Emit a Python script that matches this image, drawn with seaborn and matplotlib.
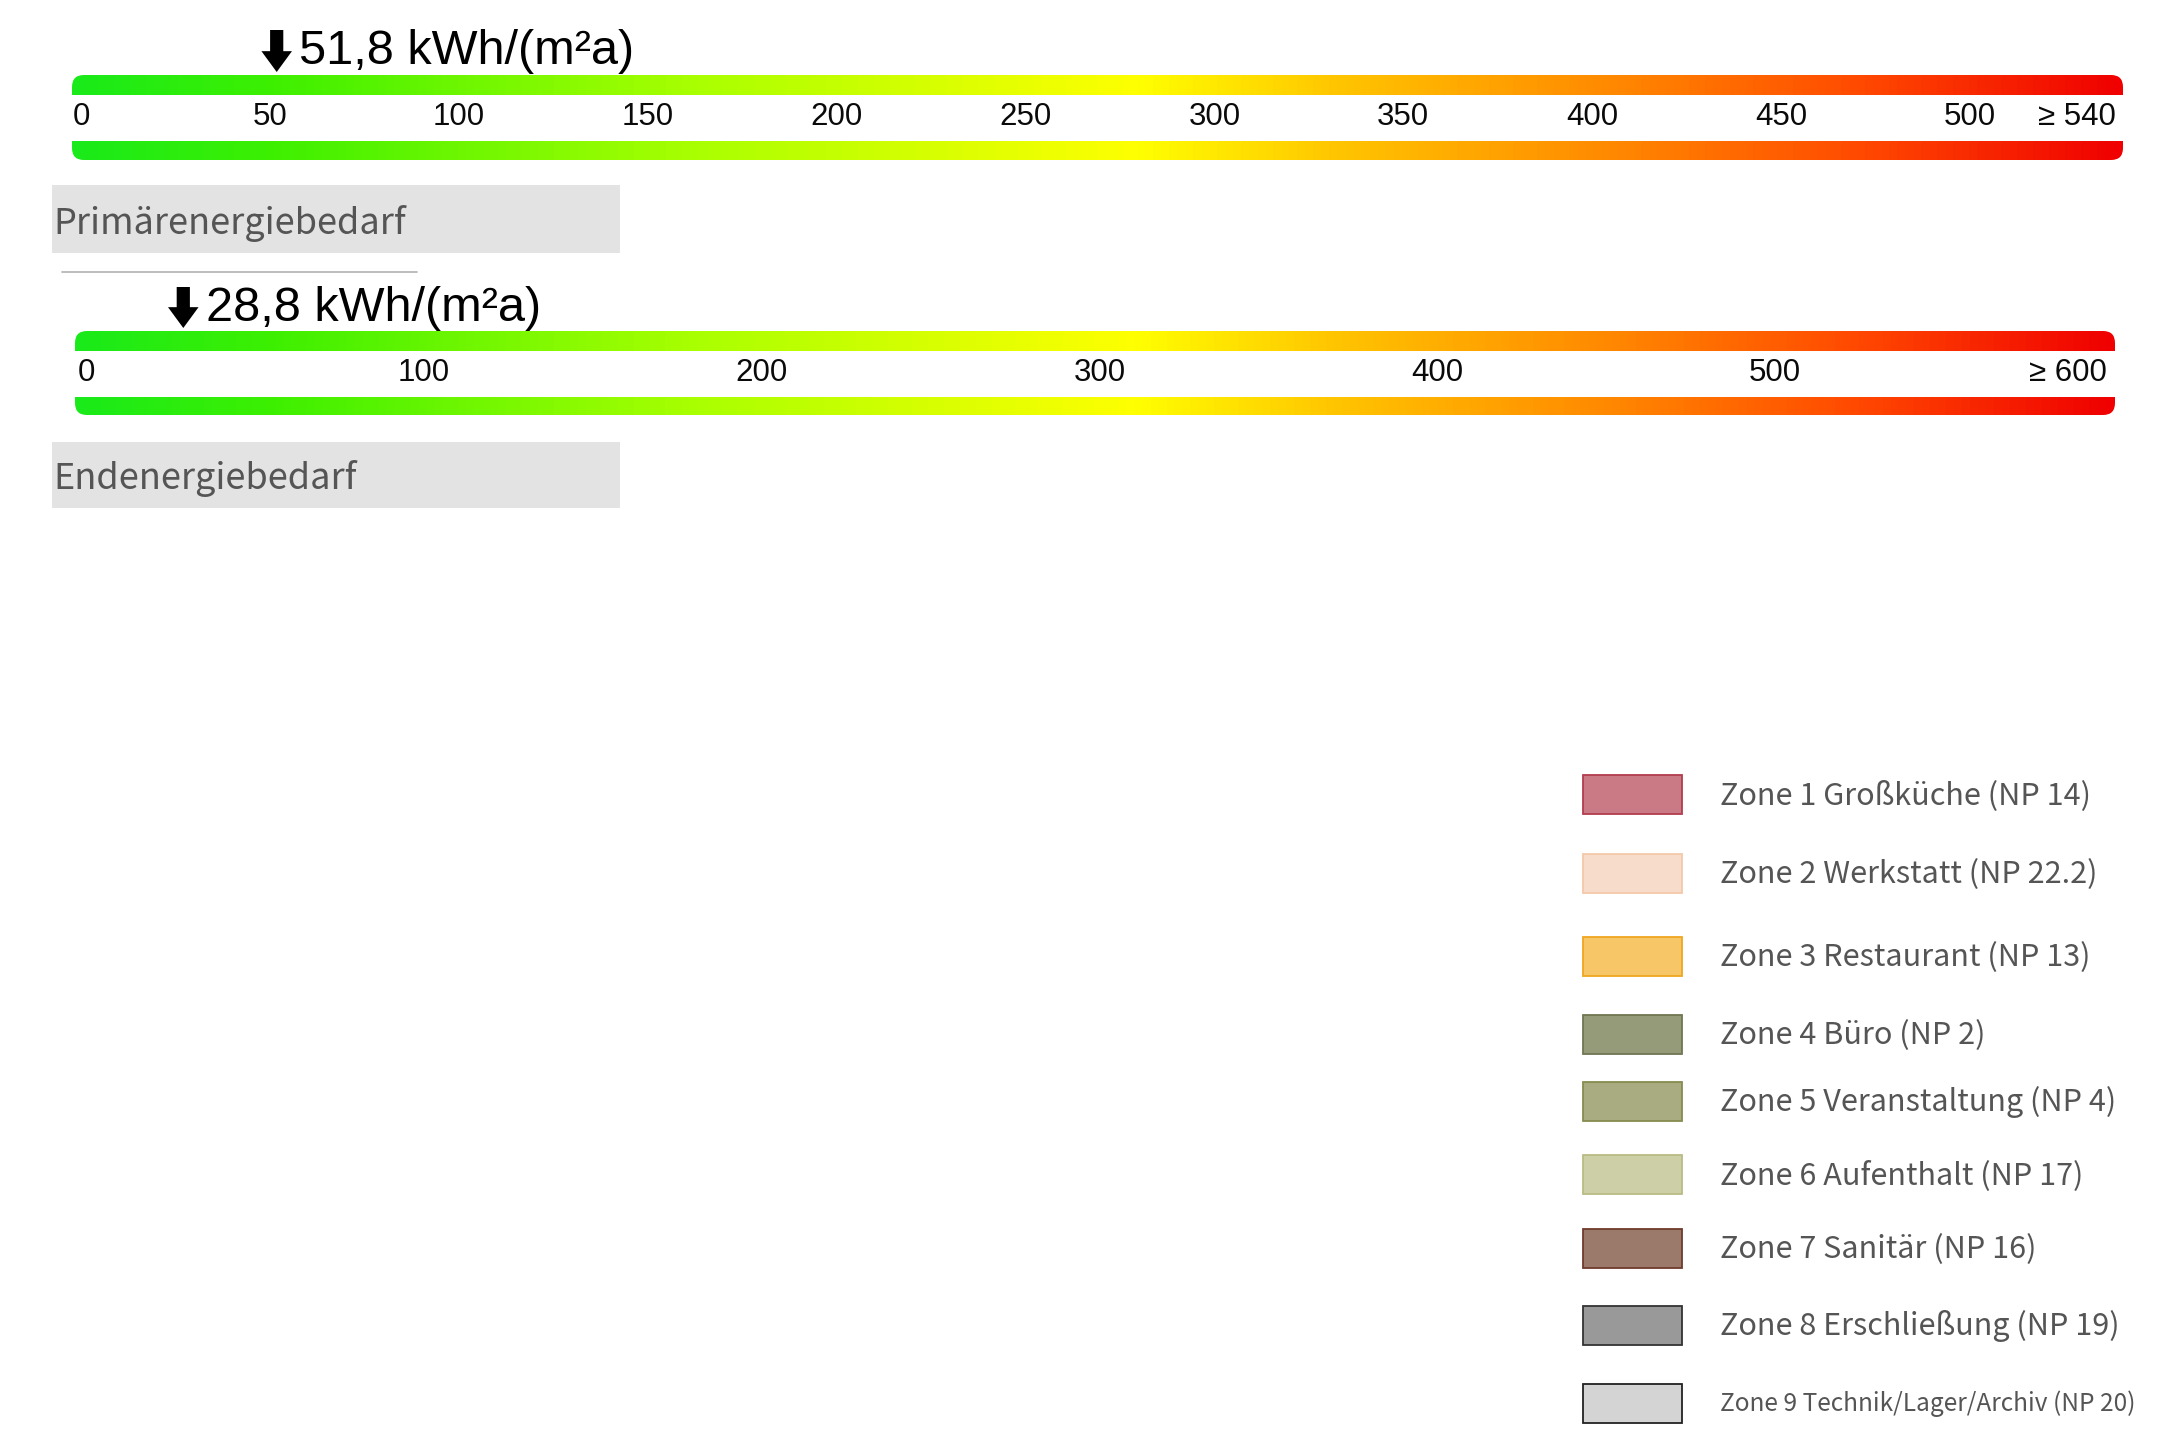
import numpy as np
import pandas as pd
import seaborn as sns
import matplotlib
matplotlib.use("Agg")
import matplotlib.pyplot as plt
from matplotlib.colors import LinearSegmentedColormap
from matplotlib.patches import FancyBboxPatch, Rectangle
from matplotlib.lines import Line2D

# ---------------- data ----------------
primary_ticks = [0, 50, 100, 150, 200, 250, 300, 350, 400, 450, 500]
primary_tick_labels = ["0", "50", "100", "150", "200", "250", "300", "350", "400", "450", "500"]
primary_max = 540
primary_max_label = "\u2265 540"
primary_value = 51.8
primary_value_label = "51,8 kWh/(m\u00b2a)"
primary_title = "Primärenergiebedarf"

final_ticks = [0, 100, 200, 300, 400, 500]
final_tick_labels = ["0", "100", "200", "300", "400", "500"]
final_max = 600
final_max_label = "\u2265 600"
final_value = 28.8
final_value_label = "28,8 kWh/(m\u00b2a)"
final_title = "Endenergiebedarf"

zone_labels = [
    "Zone 1 Großküche (NP 14)",
    "Zone 2 Werkstatt (NP 22.2)",
    "Zone 3 Restaurant (NP 13)",
    "Zone 4 Büro (NP 2)",
    "Zone 5 Veranstaltung (NP 4)",
    "Zone 6 Aufenthalt (NP 17)",
    "Zone 7 Sanitär (NP 16)",
    "Zone 8 Erschließung (NP 19)",
    "Zone 9 Technik/Lager/Archiv (NP 20)",
]
zone_fill_colors = ["#c97a85", "#f7dccb", "#f6c667", "#959a78", "#a9ab80",
                    "#cdcfa6", "#9b7a6c", "#999999", "#d4d4d4"]
zone_edge_colors = ["#b23c4e", "#f4c9aa", "#efa620", "#6f7652", "#868c4e",
                    "#b9bc82", "#6e3b2b", "#333333", "#222222"]

scale_stop_positions = [0.0, 0.10, 0.30, 0.52, 0.62, 0.75, 0.88, 1.0]
scale_stop_colors = ["#1aea1a", "#3ff000", "#a8ff00", "#ffff00", "#ffc400",
                     "#ff8a00", "#ff4600", "#f00000"]

# ---------------- style ----------------
sns.set_theme(style="white")
plt.rcParams["font.family"] = ["Liberation Sans", "DejaVu Sans"]
label_font = ["Noto Sans CJK JP", "DejaVu Sans"]

W, H = 2175, 1450
fig = plt.figure(figsize=(W / 100, H / 100), dpi=100)
fig.patch.set_facecolor("white")

# pixel-based overlay axes for layout elements
ax_px = fig.add_axes([0, 0, 1, 1])
ax_px.set_xlim(0, W)
ax_px.set_ylim(H, 0)
ax_px.axis("off")

cmap = LinearSegmentedColormap.from_list(
    "energy", list(zip(scale_stop_positions, scale_stop_colors)))


def draw_scale(ticks, tick_labels, max_val, max_label, value, value_label,
               zero_px, unit_px, bar_left_px, bar_right_px,
               s1_top, s1_bot, s2_top, s2_bot, label_y, baseline_y, arrow_top):
    x0 = (bar_left_px - zero_px) / unit_px
    x1 = (bar_right_px - zero_px) / unit_px
    ax_top, ax_bot = arrow_top - 20, s2_bot + 10
    ax = fig.add_axes([bar_left_px / W, 1 - ax_bot / H,
                       (bar_right_px - bar_left_px) / W, (ax_bot - ax_top) / H])
    ax.set_xlim(x0, x1)
    ax.set_ylim(ax_bot, ax_top)
    ax.axis("off")
    ax.patch.set_alpha(0)

    grad = np.linspace(0, 1, 600).reshape(1, -1)
    im = ax.imshow(grad, cmap=cmap, aspect="auto", interpolation="bilinear",
                   extent=(x0, x1, s2_bot, s1_top), zorder=1)
    radius = 12
    clip = FancyBboxPatch((x0, s1_top), x1 - x0, s2_bot - s1_top,
                          boxstyle=f"round,pad=0,rounding_size={radius / unit_px}",
                          mutation_aspect=unit_px, fc="none", ec="none")
    ax.add_patch(clip)
    im.set_clip_path(clip)
    ax.add_patch(Rectangle((x0, s1_bot), x1 - x0, s2_top - s1_bot,
                           fc="white", ec="none", zorder=2))

    for t, lab in zip(ticks, tick_labels):
        ax.text(t, label_y, lab, ha="center", va="center", fontsize=22.5,
                color="#0a0a0a", zorder=3)
    ax.annotate(max_label, xy=(max_val, label_y), xytext=(-4, 0),
                textcoords="offset points", ha="right", va="center",
                fontsize=22.5, color="#0a0a0a", zorder=3)

    tip = s1_top - 3
    ax.annotate("", xy=(value, tip), xytext=(value, arrow_top),
                arrowprops=dict(arrowstyle="simple,head_length=1.5,head_width=2.2,tail_width=0.95",
                                mutation_scale=10, fc="black", ec="none",
                                shrinkA=0, shrinkB=0), zorder=4)
    ax.annotate(value_label, xy=(value, baseline_y), xytext=(16, 0),
                textcoords="offset points", ha="left", va="baseline",
                fontsize=35, color="black", zorder=4)
    return ax


draw_scale(primary_ticks, primary_tick_labels, primary_max, primary_max_label,
           primary_value, primary_value_label,
           zero_px=81, unit_px=(1970 - 81) / 500, bar_left_px=72, bar_right_px=2123,
           s1_top=75, s1_bot=95, s2_top=141, s2_bot=160,
           label_y=117, baseline_y=64, arrow_top=30)

draw_scale(final_ticks, final_tick_labels, final_max, final_max_label,
           final_value, final_value_label,
           zero_px=86, unit_px=(1775 - 86) / 500, bar_left_px=75, bar_right_px=2115,
           s1_top=331, s1_bot=351, s2_top=397, s2_bot=415,
           label_y=373, baseline_y=321, arrow_top=287)

# section labels on gray boxes
for title, (top, bot, base) in zip([primary_title, final_title],
                                   [(185, 253, 234), (442, 508, 489)]):
    ax_px.add_patch(Rectangle((52, top), 568, bot - top, fc="#e3e3e3", ec="none"))
    ax_px.text(53, base, title, ha="left", va="baseline", fontsize=26,
               color="#555555", family=label_font)

ax_px.add_line(Line2D([62, 417], [272, 272], color="#b8b8b8", lw=1.3))

# legend
row_centers = [794, 873, 956, 1034, 1101, 1174, 1248, 1325, 1403]
legend_sizes = [22, 22, 22, 22, 22, 22, 22, 22, 17.6]
for i, (lab, fc, ec) in enumerate(zip(zone_labels, zone_fill_colors, zone_edge_colors)):
    yc = row_centers[i]
    ax_px.add_patch(Rectangle((1583, yc - 19.5), 99, 39, fc=fc, ec=ec, lw=1.3))
    ax_px.text(1720, yc + (10 if legend_sizes[i] > 20 else 8), lab, ha="left",
               va="baseline", fontsize=legend_sizes[i],
               color="#555555", family=label_font)

fig.savefig("out.png", dpi=100, facecolor="white")
